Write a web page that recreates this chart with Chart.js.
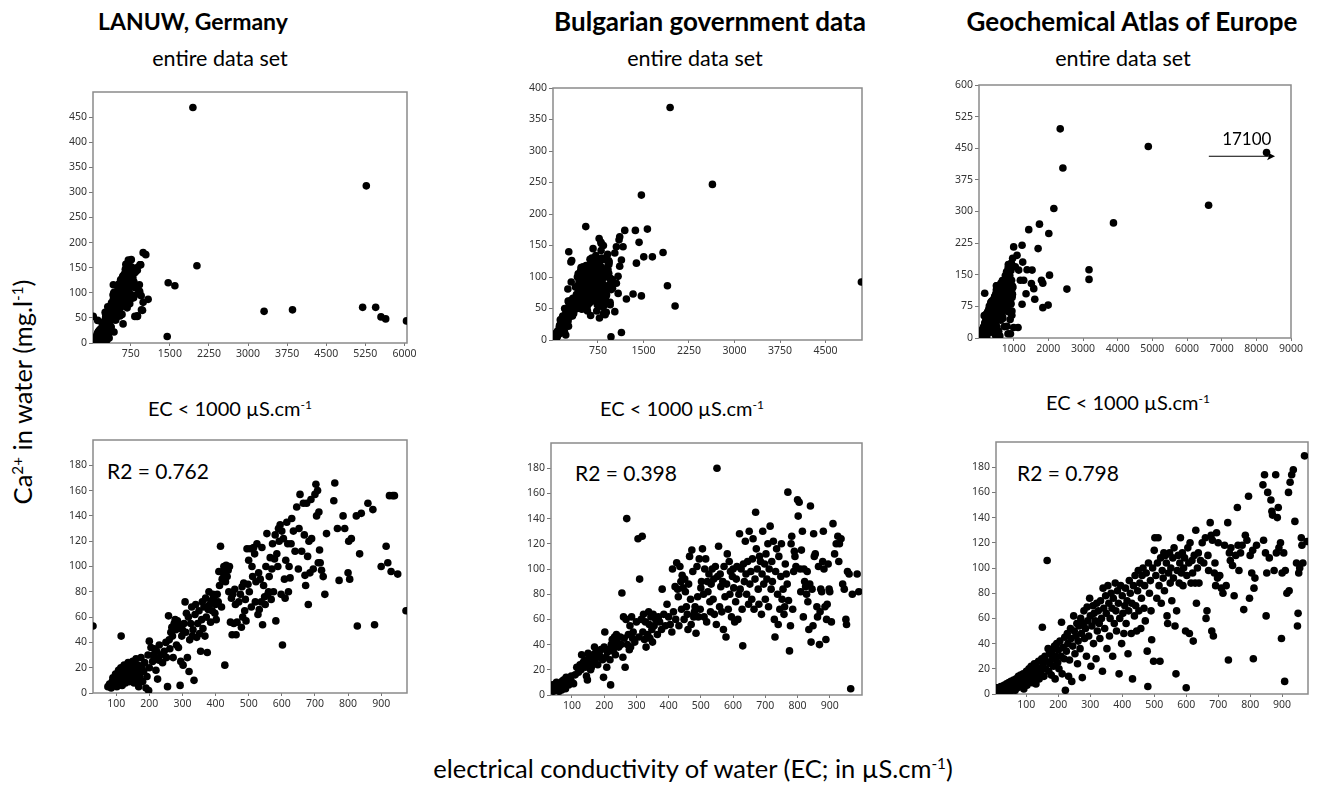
<!DOCTYPE html>
<html>
<head>
<meta charset="utf-8">
<script src="https://cdn.jsdelivr.net/npm/chart.js@4.4.1/dist/chart.umd.min.js"></script>
<style>
  body { margin: 0; background: #fff; width: 1321px; height: 786px; position: relative; overflow: hidden; font-family: Lato, "Open Sans", sans-serif; color: #000; }
  canvas { position: absolute; }
  .t { position: absolute; white-space: nowrap; transform: translate(-50%, -50%); }
  .title { font-weight: bold; font-size: 26px; }
  .sub { font-size: 21.5px; }
  .ec { font-size: 20px; }
  .ax { font-size: 25.5px; }
  .r2 { position: absolute; white-space: nowrap; font-size: 21px; transform: translateY(-50%); }
  sup { font-size: 0.6em; vertical-align: 0.6em; line-height: 0; }
</style>
</head>
<body>
<div class="t title" style="left:193px;top:21px;font-size:23px">LANUW, Germany</div>
<div class="t title" style="left:710px;top:21px">Bulgarian government data</div>
<div class="t title" style="left:1132px;top:21px">Geochemical Atlas of Europe</div>
<div class="t sub" style="left:220px;top:58px">entire data set</div>
<div class="t sub" style="left:695px;top:58px">entire data set</div>
<div class="t sub" style="left:1123px;top:58px">entire data set</div>
<div class="t ec" style="left:230px;top:408px">EC &lt; 1000 µS.cm<sup>-1</sup></div>
<div class="t ec" style="left:682px;top:408px">EC &lt; 1000 µS.cm<sup>-1</sup></div>
<div class="t ec" style="left:1128px;top:402px">EC &lt; 1000 µS.cm<sup>-1</sup></div>
<div class="t ax" style="left:22px;top:392px;transform:translate(-50%,-50%) rotate(-90deg)">Ca<sup>2+</sup> in water (mg.l<sup>-1</sup>)</div>
<div class="t ax" style="left:693px;top:768px">electrical conductivity of water (EC; in µS.cm<sup>-1</sup>)</div>
<div class="r2" style="left:107px;top:470px">R2 = 0.762</div>
<div class="r2" style="left:575px;top:472px">R2 = 0.398</div>
<div class="r2" style="left:1017px;top:472px">R2 = 0.798</div>

<script>
// ---- data: [EC, Ca] pairs ----
const LANUW_LOW = [
  [30,53],[115,45],
  [75,5],[80,7],[85,4],[88,9],[90,12],[92,6],[95,8],[98,15],[100,10],[102,5],[105,13],[107,18],[110,8],[112,11],[114,20],[116,14],[118,6],[120,17],
  [122,10],[124,22],[126,13],[128,8],[130,19],[132,15],[134,11],[136,24],[138,17],[140,9],[142,14],[144,21],[146,18],[148,12],[150,25],[152,16],
  [154,8],[156,20],[158,14],[160,27],[162,10],[164,18],[166,22],[168,5],[170,15],[172,12],[175,28],[178,20],[180,9],[183,17],[186,24],[190,4],
  [193,13],[196,30],[198,2],[200,20],
  [200,41],[205,36],[210,25],[212,30],[215,35],[218,28],[220,18],[222,33],[225,11],[228,26],[230,38],[235,30],[240,24],[245,33],[250,40],[252,28],
  [255,5],[258,61],[260,42],[262,35],[265,48],[268,52],[270,45],[272,28],[275,55],[278,58],[280,50],[282,38],[285,57],[288,36],[290,53],[293,6],
  [295,25],[298,45],[300,50],[302,22],[305,55],[308,72],[310,48],[312,63],[315,28],[318,60],[320,17],[322,42],[325,55],[328,68],[330,45],[332,50],
  [335,10],[338,62],[340,70],[343,44],[346,55],[350,65],[352,47],[355,33],[358,58],[360,72],[362,51],[365,68],[368,45],[370,75],[372,60],[375,32],
  [378,66],[380,80],[382,70],[385,56],[388,73],[390,65],[392,78],[395,76],[398,63],[400,70],[402,58],[405,78],[408,72],[410,96],[412,85],[415,116],
  [418,68],[420,90],[422,95],[425,100],[428,22],[430,88],[432,101],[435,92],[438,97],[440,80],[442,100],[445,56],[448,75],[450,46],[452,78],[455,55],
  [458,82],[460,70],[462,46],[465,56],[470,72],[475,78],[478,52],[480,84],[482,60],[485,87],[488,65],[490,74],[492,57],[495,114],[498,86],[500,105],
  [502,80],[505,114],[508,68],[510,100],[512,92],[515,115],[518,110],[520,72],[522,88],[525,118],[528,62],[530,95],[532,66],[535,90],[538,72],[540,115],
  [542,54],[545,85],[548,76],[550,70],[552,100],[555,126],[558,78],[560,80],[562,92],[565,107],[568,74],[570,98],[572,118],[575,80],[578,106],[580,125],
  [582,57],[585,110],[588,100],[590,130],[592,120],[595,133],[598,78],[600,128],[602,38],[605,122],[608,90],[610,75],[612,105],[615,135],[618,118],[620,80],
  [622,100],[625,91],[628,118],[630,138],[635,128],[640,112],[645,147],[650,98],[652,130],[655,157],[660,112],[665,150],[668,125],[670,93],[672,85],[675,150],
  [678,108],[680,70],[682,120],[685,95],[688,153],[690,122],[695,98],[700,157],[703,165],[705,140],[708,160],[710,103],[712,143],[714,113],[716,103],[720,97],
  [725,92],[730,78],[735,126],[757,152],[760,166],[768,130],[773,89],[785,140],[790,130],[800,95],[802,120],[805,90],[810,122],[825,140],[828,53],[835,110],
  [840,142],[860,150],[875,145],[880,54],[900,100],[915,116],[920,103],[925,156],[930,96],[935,156],[940,156],[950,94],[975,65]
];
const LANUW_HIGH = [
  [987,180],[1038,176],[1083,87],[987,81],[955,66],[872,53],
  [1449,13],[1468,120],[1596,114],[1942,469],[2019,154],[3308,63],[3853,66],[5199,71],[5269,313],[5449,71],[5551,52],[5641,48],[6040,44]
];

const BG_LOW = [
  [38,5],[40,8],[42,3],[45,6],[48,4],[50,7],[52,10],[55,5],[58,8],[60,3],[62,6],[65,9],[68,4],[70,11],[72,7],[75,12],[78,9],[80,5],[82,14],[85,10],
  [88,13],[90,8],[95,12],[98,15],[100,10],[105,9],[110,16],[115,22],[120,18],[125,24],[128,20],[130,32],[135,26],[140,28],[142,22],[145,15],[148,12],
  [150,33],[152,25],[155,30],[158,20],[160,22],[165,32],[168,26],[170,38],[172,28],[175,35],[178,30],[180,24],[185,32],[190,36],[195,28],[198,14],
  [200,38],[202,50],[205,30],[208,22],[210,34],[215,36],[218,28],[220,8],[222,40],[225,44],[228,35],[230,38],[232,46],[235,32],[238,48],[240,42],
  [245,38],[250,46],[252,40],[255,81],[258,30],[260,62],[262,45],[265,22],[268,60],[270,140],[272,40],[275,48],[278,36],[280,55],[282,38],[285,62],
  [288,45],[290,50],[295,42],[300,58],[305,124],[308,46],[310,92],[315,60],[318,126],[320,50],[322,64],[325,44],[328,58],[330,38],[335,48],[338,66],
  [340,56],[342,45],[345,62],[348,52],[350,42],[352,64],[355,55],[360,60],[365,48],[368,62],[372,58],[378,52],[380,84],[385,64],[390,55],[395,72],
  [400,62],[405,56],[410,50],[412,100],[415,66],[420,86],[422,60],[425,105],[428,84],[430,78],[432,55],[435,102],[438,90],[440,68],[442,95],[445,85],
  [448,60],[450,92],[452,82],[455,70],[458,64],[460,52],[462,88],[465,110],[468,76],[470,56],[472,115],[475,98],[478,62],[480,66],[482,70],[485,49],
  [488,102],[490,78],[492,62],[495,108],[498,68],[500,85],[502,90],[505,116],[508,80],[510,62],[512,100],[515,108],[518,58],[520,90],[522,82],[525,96],
  [528,74],[530,66],[532,88],[535,100],[538,76],[540,92],[542,64],[545,102],[548,56],[550,180],[552,94],[555,118],[558,70],[560,96],[562,86],[565,66],
  [568,90],[570,52],[572,102],[575,78],[578,46],[580,88],[582,112],[585,68],[588,106],[590,80],[592,98],[595,62],[598,94],[600,100],[602,85],[605,58],
  [608,74],[610,92],[612,102],[615,60],[618,80],[620,128],[622,84],[625,100],[628,68],[630,39],[632,104],[635,90],[638,122],[640,96],[642,80],[645,106],
  [648,72],[650,130],[652,88],[655,98],[658,76],[660,108],[662,124],[665,68],[668,92],[670,145],[672,116],[675,100],[678,84],[680,72],[682,110],[685,106],
  [688,64],[690,96],[692,130],[695,88],[698,104],[700,76],[702,112],[705,92],[708,120],[710,70],[712,100],[715,134],[718,84],[720,106],[722,90],[725,122],
  [728,60],[730,46],[732,98],[735,116],[738,80],[740,56],[742,110],[745,68],[748,94],[750,120],[752,76],[755,84],[758,64],[760,70],[762,104],[765,96],
  [768,88],[770,161],[772,75],[775,35],[778,55],[780,120],[782,126],[785,68],[788,98],[790,114],[792,110],[795,102],[800,155],[802,142],[805,153],[808,100],
  [810,82],[812,115],[815,130],[818,62],[820,100],[822,90],[825,86],[828,80],[830,98],[832,74],[835,52],[838,88],[840,150],[842,42],[845,84],[848,55],
  [850,128],[852,110],[855,112],[860,70],[862,62],[865,102],[868,40],[870,66],[872,84],[875,82],[878,106],[880,130],[882,100],[885,70],[888,44],[890,60],
  [892,72],[895,104],[898,84],[900,82],[905,58],[910,136],[915,112],[920,120],[925,126],[928,106],[930,120],[935,124],[940,88],[945,84],[950,60],[952,56],
  [955,98],[960,96],[965,5],[970,80],[985,96],[990,82]
];
const BG_HIGH = [
  [1109,164],[1098,159],[1164,148],[1192,174],[1137,127],[1109,117],[1082,101],[1054,90],[1137,12],[1219,65],[1329,73],[1367,174],[1384,122],
  [1428,155],[1466,230],[1466,70],[1505,132],[1565,176],[1647,132],[1823,139],[1895,86],[1939,369],[2021,54],[2636,247],[5090,92],
  [1054,148],[1028,138],[1083,74],[1028,45]
];

const GEO_LOW = [
  [8,3],[10,5],[12,1],[15,4],[18,2],[20,6],[22,3],[25,5],[28,1],[30,7],[32,4],[35,2],[38,8],[40,5],[42,3],[45,9],[48,6],[50,2],[52,10],[55,7],
  [58,4],[60,11],[62,8],[65,3],[68,12],[70,9],[72,5],[75,14],[78,10],[80,6],[82,15],[85,12],[88,8],[90,16],[92,4],[95,13],[98,10],[100,18],[102,7],
  [105,14],[108,20],[110,11],[112,16],[115,22],[118,9],[120,17],[122,13],[125,24],[128,19],[130,8],[132,21],[135,15],[138,26],[140,12],[142,20],
  [145,17],[148,28],[150,53],[152,23],[155,14],[158,30],[160,20],[162,26],[165,106],[168,36],[170,18],[172,32],[175,24],[178,15],[180,34],[182,28],
  [185,22],[188,38],[190,12],[192,30],[195,40],[198,25],[200,35],[202,20],[205,42],[208,30],[210,57],[212,16],[215,37],[218,28],[220,45],[222,3],
  [225,34],[228,48],[230,40],[232,14],[235,27],[238,52],[240,44],[242,10],[245,38],[248,62],[250,50],[252,32],[255,46],[258,56],[260,24],[262,42],
  [265,54],[268,36],[270,60],[272,48],[275,13],[278,56],[280,66],[282,44],[285,52],[288,30],[290,69],[292,58],[295,46],[298,76],[300,62],[302,22],
  [305,54],[308,70],[310,40],[312,64],[315,58],[318,28],[320,72],[322,50],[325,66],[328,56],[330,44],[332,74],[335,60],[338,18],[340,84],[342,68],
  [345,52],[348,78],[350,64],[352,36],[355,86],[358,72],[360,46],[362,60],[365,80],[368,68],[370,30],[372,76],[375,56],[378,88],[380,66],[382,50],
  [385,82],[388,72],[390,16],[392,60],[395,86],[398,40],[400,78],[402,64],[405,48],[408,70],[410,84],[412,56],[415,74],[418,32],[420,66],[422,90],
  [425,80],[428,48],[430,72],[432,12],[435,86],[438,62],[440,94],[442,70],[445,50],[448,82],[450,98],[452,66],[455,88],[458,52],[460,76],[462,94],
  [465,100],[468,68],[470,86],[472,58],[475,96],[478,34],[480,6],[482,104],[485,80],[488,90],[490,66],[492,43],[495,100],[498,26],[500,114],[502,124],
  [505,94],[508,76],[510,104],[512,124],[515,86],[518,26],[520,108],[522,72],[525,98],[528,92],[530,112],[532,82],[535,110],[538,104],[540,62],[542,56],
  [545,96],[548,112],[550,88],[552,100],[555,74],[558,108],[560,92],[562,116],[565,54],[568,16],[570,66],[572,98],[575,110],[578,88],[580,104],[582,124],
  [585,96],[588,112],[590,86],[592,100],[595,108],[598,50],[600,5],[602,94],[605,116],[608,104],[610,48],[612,120],[615,88],[618,106],[620,96],[622,42],
  [625,110],[628,88],[630,130],[632,72],[635,100],[638,112],[640,88],[645,106],[650,120],[655,104],[660,124],[662,60],[665,66],[668,110],[670,98],[675,136],
  [678,126],[680,50],[682,122],[685,46],[688,96],[690,104],[692,86],[695,128],[698,92],[700,120],[705,94],[710,84],[715,80],[720,118],[725,86],[730,136],
  [732,27],[735,112],[738,106],[740,116],[745,102],[750,78],[755,110],[760,148],[762,118],[765,98],[770,112],[775,118],[780,67],[785,126],[790,122],[795,157],
  [798,76],[800,110],[805,96],[808,114],[810,28],[812,84],[815,92],[820,118],[840,166],[842,122],[845,174],[848,112],[850,62],[852,96],[855,160],[860,108],
  [865,154],[868,145],[870,142],[875,98],[880,174],[882,112],[885,140],[888,148],[890,116],[895,120],[898,44],[900,96],[905,112],[908,10],[910,98],[915,80],
  [920,160],[922,82],[925,168],[930,174],[935,178],[940,137],[945,104],[948,54],[950,64],[952,96],[955,100],[960,124],[962,118],[965,104],[970,189],[978,121]
];
const GEO_HIGH = [
  [1000,216],[1242,220],[1097,196],[1261,180],[1048,169],[1145,161],[1386,162],[1193,137],[1290,137],[1531,161],[1512,129],[1580,117],[1357,105],
  [1242,80],[1609,92],[1841,72],[1995,78],[2034,149],[1802,137],[1841,130],[1435,257],[1744,270],[1705,212],[2014,248],[2159,307],[2343,496],
  [2420,403],[2536,116],[3174,162],[3174,139],[3879,273],[4884,454],[6623,315],[8295,440],[1000,25],[1126,25],[836,10]
];
// off-scale sample (EC 17100) drawn at the right edge with an arrow
const GEO_ARROW = [[6630,431],[8540,431]];
const GEO_ARROW_LABEL = [7725,471,'17100'];

// ---- axis ticks ----
const X_TICKS_LANUW = [750,1500,2250,3000,3750,4500,5250,6000];
const Y_TICKS_LANUW = [0,50,100,150,200,250,300,350,400,450];
const X_TICKS_BG = [750,1500,2250,3000,3750,4500];
const Y_TICKS_BG = [0,50,100,150,200,250,300,350,400];
const X_TICKS_GEO = [1000,2000,3000,4000,5000,6000,7000,8000,9000];
const Y_TICKS_GEO = [0,75,150,225,300,375,450,525,600];
const X_TICKS_LOW = [100,200,300,400,500,600,700,800,900];
const Y_TICKS_LOW = [0,20,40,60,80,100,120,140,160,180];

// ---- layout ----
const M = { l: 40, t: 10, r: 20, b: 24 };
const panels = [
  { box: [93, 92, 314, 251],  pts: LANUW_LOW.concat(LANUW_HIGH), x: [25, 6050], y: [0, 500], xt: X_TICKS_LANUW, yt: Y_TICKS_LANUW },
  { box: [553, 88, 309, 252], pts: BG_LOW.concat(BG_HIGH),       x: [10, 5100], y: [0, 400], xt: X_TICKS_BG,    yt: Y_TICKS_BG },
  { box: [979, 85, 312, 253], pts: GEO_LOW.concat(GEO_HIGH),     x: [0, 9000],  y: [0, 600], xt: X_TICKS_GEO,   yt: Y_TICKS_GEO, arrow: true },
  { box: [93, 440, 314, 253], pts: LANUW_LOW, x: [30, 978], y: [0, 200], xt: X_TICKS_LOW, yt: Y_TICKS_LOW },
  { box: [551, 443, 311, 252], pts: BG_LOW,   x: [35, 1000], y: [0, 200], xt: X_TICKS_LOW, yt: Y_TICKS_LOW },
  { box: [996, 442, 312, 252], pts: GEO_LOW,  x: [5, 981],  y: [0, 200], xt: X_TICKS_LOW, yt: Y_TICKS_LOW },
];

const frame = {
  id: 'frame',
  beforeDatasetsDraw(chart) {
    const a = chart.chartArea, c = chart.ctx;
    c.save();
    c.strokeStyle = '#8a8a8a';
    c.lineWidth = 1.5;
    c.strokeRect(a.left, a.top, a.right - a.left, a.bottom - a.top);
    c.restore();
  }
};

const arrow = {
  id: 'arrow',
  afterDatasetsDraw(chart, args, opts) {
    if (!opts.on) return;
    const xs = chart.scales.x, ys = chart.scales.y, c = chart.ctx;
    const x0 = xs.getPixelForValue(GEO_ARROW[0][0]), y0 = ys.getPixelForValue(GEO_ARROW[0][1]);
    const x1 = xs.getPixelForValue(GEO_ARROW[1][0]), y1 = ys.getPixelForValue(GEO_ARROW[1][1]);
    c.save();
    c.strokeStyle = '#000';
    c.fillStyle = '#000';
    c.lineWidth = 1;
    c.beginPath(); c.moveTo(x0, y0); c.lineTo(x1 - 6, y1); c.stroke();
    c.beginPath(); c.moveTo(x1, y1); c.lineTo(x1 - 8, y1 - 4); c.lineTo(x1 - 6, y1); c.lineTo(x1 - 8, y1 + 4); c.closePath(); c.fill();
    c.font = '17px Lato, sans-serif';
    c.textAlign = 'center';
    c.textBaseline = 'middle';
    c.fillText(GEO_ARROW_LABEL[2], xs.getPixelForValue(GEO_ARROW_LABEL[0]), ys.getPixelForValue(GEO_ARROW_LABEL[1]));
    c.restore();
  }
};

const tickFont = { family: '"Noto Sans", sans-serif', size: 10.5 };
const plain = v => String(v);

panels.forEach(p => {
  const [bl, bt, bw, bh] = p.box;
  const cv = document.createElement('canvas');
  cv.width = bw + M.l + M.r;
  cv.height = bh + M.t + M.b;
  cv.style.left = (bl - M.l) + 'px';
  cv.style.top = (bt - M.t) + 'px';
  document.body.appendChild(cv);

  new Chart(cv, {
    type: 'scatter',
    data: {
      datasets: [{
        data: p.pts.map(([x, y]) => ({ x, y })),
        pointRadius: 3.8,
        pointBackgroundColor: '#000',
        pointBorderWidth: 0,
      }]
    },
    options: {
      responsive: false,
      animation: false,
      layout: { padding: { top: M.t, right: M.r, left: 0, bottom: 0 } },
      plugins: { legend: { display: false }, tooltip: { enabled: false }, arrow: { on: !!p.arrow } },
      scales: {
        x: {
          type: 'linear', min: p.x[0], max: p.x[1],
          afterBuildTicks: s => { s.ticks = p.xt.map(v => ({ value: v })); },
          afterFit: s => { s.height = M.b; s.paddingLeft = 0; s.paddingRight = 0; },
          grid: { drawOnChartArea: false, drawTicks: true, tickLength: 3, color: '#777' },
          border: { display: false },
          ticks: { font: tickFont, color: '#333', padding: 2, maxRotation: 0, autoSkip: false, callback: plain },
        },
        y: {
          type: 'linear', min: p.y[0], max: p.y[1],
          afterBuildTicks: s => { s.ticks = p.yt.map(v => ({ value: v })); },
          afterFit: s => { s.width = M.l; s.paddingTop = 0; s.paddingBottom = 0; },
          grid: { drawOnChartArea: false, drawTicks: true, tickLength: 4, color: '#777' },
          border: { display: false },
          ticks: { font: tickFont, color: '#333', padding: 2, autoSkip: false, callback: plain },
        }
      }
    },
    plugins: [frame, arrow]
  });
});
</script>
</body>
</html>
